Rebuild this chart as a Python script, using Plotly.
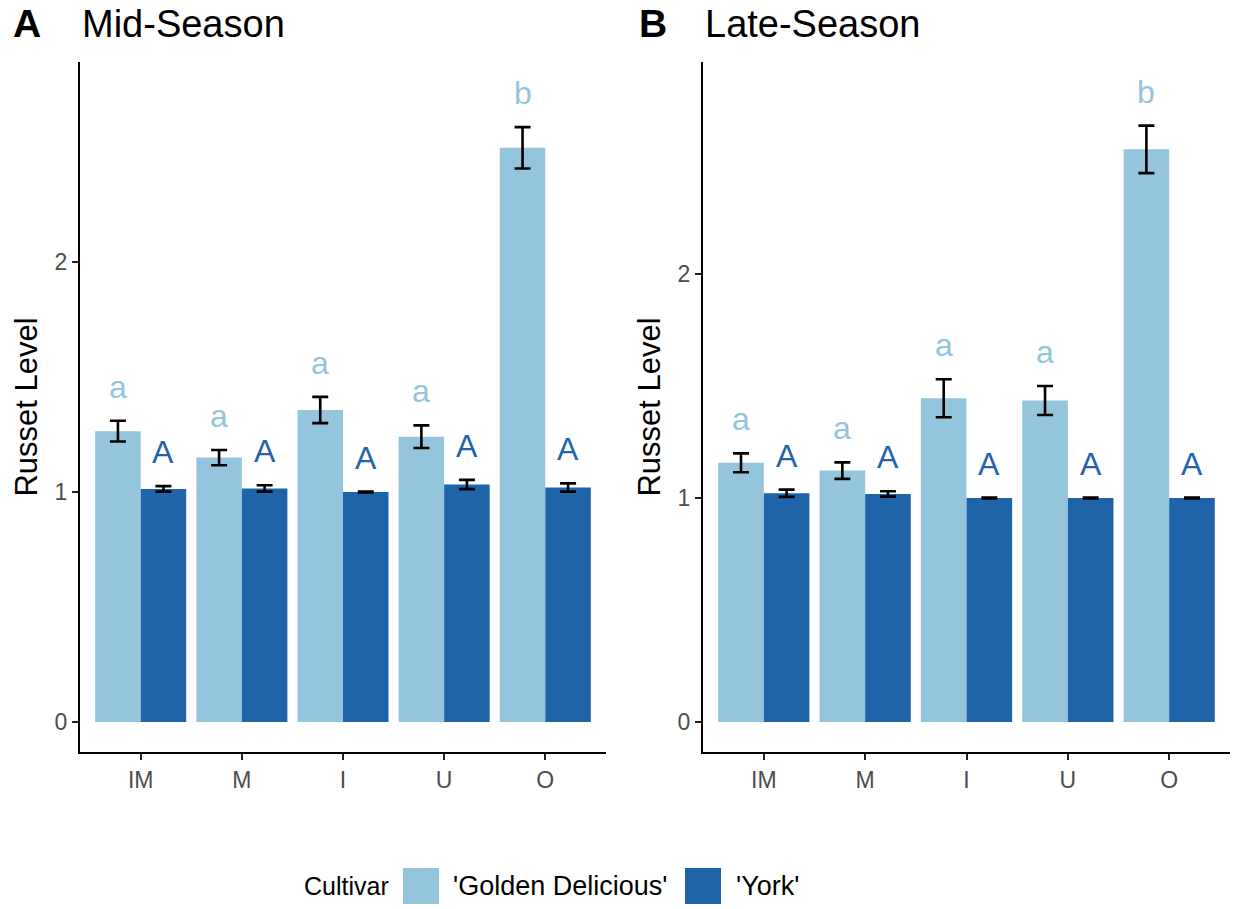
import plotly.graph_objects as go

W, H = 1235, 909

categories = ["IM", "M", "I", "U", "O"]
cultivars = ["'Golden Delicious'", "'York'"]

mid_golden = [1.265, 1.150, 1.357, 1.241, 2.497]
mid_golden_se = [0.045, 0.033, 0.057, 0.049, 0.090]
mid_york = [1.014, 1.016, 1.000, 1.033, 1.020]
mid_york_se = [0.012, 0.014, 0.002, 0.020, 0.018]

late_golden = [1.157, 1.122, 1.445, 1.435, 2.556]
late_golden_se = [0.042, 0.037, 0.085, 0.065, 0.106]
late_york = [1.021, 1.018, 1.000, 1.000, 1.000]
late_york_se = [0.016, 0.012, 0.002, 0.002, 0.002]

mid_golden_letters = ["a", "a", "a", "a", "b"]
mid_york_letters = ["A", "A", "A", "A", "A"]
late_golden_letters = ["a", "a", "a", "a", "b"]
late_york_letters = ["A", "A", "A", "A", "A"]

panel_titles = ["Mid-Season", "Late-Season"]
panel_tags = ["A", "B"]

C_LIGHT = "#95C4DD"
C_DARK = "#1F64A8"
FONT = "Liberation Sans, Arial, sans-serif"

def px_x(p):
    return p / W

def px_y(p):
    return 1 - p / H

# plot areas in px
xA = (80, 606)
xB = (703, 1230)
ytop, ybot = 62, 752
yrangeA = [-0.13, 2.87]
yrangeB = [-0.134, 2.946]

fig = go.Figure()

panels = [
    ("x", "y", mid_golden, mid_golden_se, mid_york, mid_york_se, mid_golden_letters, mid_york_letters, xA, yrangeA),
    ("x2", "y2", late_golden, late_golden_se, late_york, late_york_se, late_golden_letters, late_york_letters, xB, yrangeB),
]

annotations = []
for xa, ya, g, gse, yk, ykse, gl, yl, xdom, yr in panels:
    for vals, se, col, name in [(g, gse, C_LIGHT, cultivars[0]), (yk, ykse, C_DARK, cultivars[1])]:
        fig.add_trace(go.Bar(
            x=categories, y=vals, name=name, marker=dict(color=col, line=dict(width=0)),
            error_y=dict(type="data", array=se, color="black", thickness=2.6, width=8),
            xaxis=xa, yaxis=ya, showlegend=False,
        ))
    ppu = (xdom[1] - xdom[0]) / 5.2
    shift = 0.225 * ppu
    for i, c in enumerate(categories):
        for vals, se, letters, col, sgn in [(g, gse, gl, C_LIGHT, -1), (yk, ykse, yl, C_DARK, 1)]:
            annotations.append(dict(
                x=c, y=vals[i] + se[i], xref=xa, yref=ya, text=letters[i],
                showarrow=False, xshift=sgn * shift, yshift=14, yanchor="bottom",
                font=dict(family=FONT, size=32, color=col),
            ))

# panel titles
for tag, title, xt, xtitle in [(panel_tags[0], panel_titles[0], 11, 80), (panel_tags[1], panel_titles[1], 637, 703)]:
    annotations.append(dict(x=px_x(xt), y=px_y(24), xref="paper", yref="paper", text="<b>%s</b>" % tag,
                            showarrow=False, xanchor="left", yanchor="middle",
                            font=dict(family=FONT, size=39, color="black")))
    annotations.append(dict(x=px_x(xtitle), y=px_y(24), xref="paper", yref="paper", text=title,
                            showarrow=False, xanchor="left", yanchor="middle",
                            font=dict(family=FONT, size=38, color="black")))

# custom legend
leg_cy = 886
annotations.append(dict(x=px_x(302), y=px_y(leg_cy), xref="paper", yref="paper", text="Cultivar",
                        showarrow=False, xanchor="left", yanchor="middle",
                        font=dict(family=FONT, size=25, color="black")))
shapes = []
for (x0, x1, tx), col, lab in [((403, 439, 451), C_LIGHT, cultivars[0]), ((685, 721, 734), C_DARK, cultivars[1])]:
    shapes.append(dict(type="rect", xref="paper", yref="paper", x0=px_x(x0), x1=px_x(x1),
                       y0=px_y(leg_cy + 18), y1=px_y(leg_cy - 18), fillcolor=col, line=dict(width=0)))
    annotations.append(dict(x=px_x(tx), y=px_y(leg_cy), xref="paper", yref="paper", text=lab,
                            showarrow=False, xanchor="left", yanchor="middle",
                            font=dict(family=FONT, size=27, color="black")))

axis_common = dict(showline=True, linecolor="black", linewidth=2, ticks="outside", ticklen=6,
                   tickwidth=2, tickcolor="#222222", showgrid=False, zeroline=False,
                   tickfont=dict(family=FONT, size=23, color="#4D4D4D"))

fig.update_layout(
    width=W, height=H, margin=dict(l=0, r=0, t=0, b=0),
    plot_bgcolor="white", paper_bgcolor="white",
    barmode="group", bargap=0.1, bargroupgap=0,
    showlegend=False,
    xaxis=dict(domain=[px_x(xA[0]), px_x(xA[1])], anchor="y", range=[-0.6, 4.6], **axis_common),
    yaxis=dict(domain=[px_y(ybot), px_y(ytop)], anchor="x", range=yrangeA, tickvals=[0, 1, 2],
               title=dict(text="Russet Level", font=dict(family=FONT, size=31, color="black"), standoff=8),
               **axis_common),
    xaxis2=dict(domain=[px_x(xB[0]), px_x(xB[1])], anchor="y2", range=[-0.6, 4.6], **axis_common),
    yaxis2=dict(domain=[px_y(ybot), px_y(ytop)], anchor="x2", range=yrangeB, tickvals=[0, 1, 2],
                title=dict(text="Russet Level", font=dict(family=FONT, size=31, color="black"), standoff=8),
                **axis_common),
    annotations=annotations, shapes=shapes,
    font=dict(family=FONT),
)

fig.write_html("out.html")
